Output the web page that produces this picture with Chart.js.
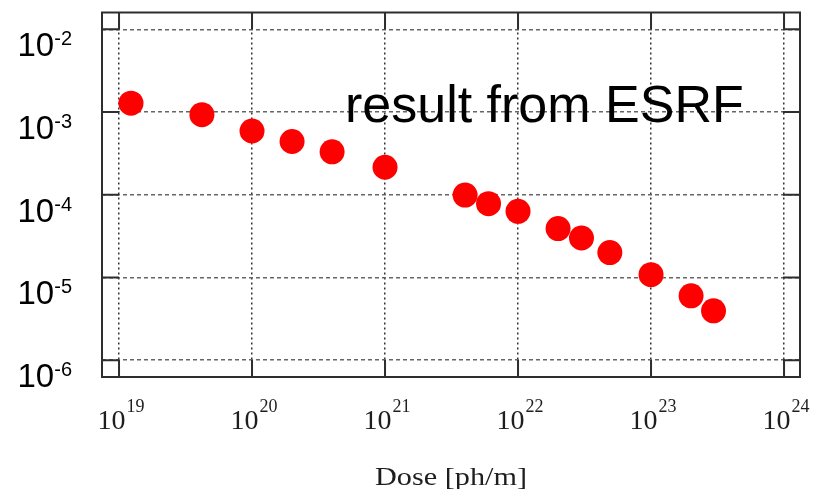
<!DOCTYPE html>
<html>
<head>
<meta charset="utf-8">
<script src="https://cdn.jsdelivr.net/npm/chart.js@4.4.1/dist/chart.umd.min.js"></script>
<style>
  html, body { margin: 0; padding: 0; background: #ffffff; }
  #wrap { width: 813px; height: 489px; position: relative; }
</style>
</head>
<body>
<div id="wrap"><canvas id="c" width="813" height="489"></canvas></div>
<script>
// ---- data ----
const doseValues  = [1.23e19, 4.2e19, 1.0e20, 2.0e20, 4.0e20, 1.0e21, 4.0e21, 6.0e21, 1.0e22, 2.0e22, 3.0e22, 4.9e22, 1.0e23, 2.0e23, 2.95e23];
const yieldValues = [1.28e-3, 9.3e-4, 5.9e-4, 4.4e-4, 3.3e-4, 2.15e-4, 9.9e-5, 7.8e-5, 6.3e-5, 3.9e-5, 3.0e-5, 2.0e-5, 1.08e-5, 6.0e-6, 3.95e-6];
const xTickExponents = [19, 20, 21, 22, 23, 24];
const yTickExponents = [-2, -3, -4, -5, -6];
const xAxisTitle = 'Dose [ph/m]';
const annotationText = 'result from ESRF';

const xMin = Math.pow(10, 18.872), xMax = Math.pow(10, 24.12);
const yMin = Math.pow(10, -6.203), yMax = Math.pow(10, -1.797);

const points = doseValues.map((d, i) => ({ x: d, y: yieldValues[i] }));

const decorPlugin = {
  id: 'decor',
  afterDraw(chart) {
    const ctx = chart.ctx;
    const a = chart.chartArea;
    const xs = chart.scales.x, ys = chart.scales.y;
    ctx.save();
    // inner tick marks (to first grid line)
    ctx.strokeStyle = '#2e2e2e';
    ctx.lineWidth = 2;
    const tickLen = 17;
    ctx.beginPath();
    xTickExponents.forEach(e => {
      const px = xs.getPixelForValue(Math.pow(10, e));
      ctx.moveTo(px, a.bottom); ctx.lineTo(px, a.bottom - tickLen);
      ctx.moveTo(px, a.top); ctx.lineTo(px, a.top + tickLen);
    });
    yTickExponents.forEach(e => {
      const py = ys.getPixelForValue(Math.pow(10, e));
      ctx.moveTo(a.left, py); ctx.lineTo(a.left + tickLen, py);
      ctx.moveTo(a.right, py); ctx.lineTo(a.right - tickLen, py);
    });
    ctx.stroke();
    // frame
    ctx.strokeRect(a.left, a.top, a.right - a.left, a.bottom - a.top);

    // y tick labels (Arial-like, superscript exponent)
    ctx.fillStyle = '#000000';
    ctx.textBaseline = 'alphabetic';
    ctx.textAlign = 'left';
    yTickExponents.forEach(e => {
      const py = ys.getPixelForValue(Math.pow(10, e));
      const base = py + 27;
      ctx.font = '20px "Liberation Sans", Arial, sans-serif';
      const sup = '-' + Math.abs(e);
      const supW = ctx.measureText(sup).width;
      ctx.font = '33px "Liberation Sans", Arial, sans-serif';
      const mainW = ctx.measureText('10').width;
      const right = 72;
      const mx = right - supW - mainW;
      ctx.fillText('10', mx, base);
      ctx.font = '20px "Liberation Sans", Arial, sans-serif';
      ctx.fillText(sup, mx + mainW, base - 11);
    });

    // x tick labels (Times-like, superscript exponent)
    ctx.fillStyle = '#1e1e1e';
    xTickExponents.forEach(e => {
      const px = xs.getPixelForValue(Math.pow(10, e));
      ctx.font = '28px "Liberation Serif", "Times New Roman", serif';
      const mainW = ctx.measureText('10').width;
      ctx.font = '18px "Liberation Serif", "Times New Roman", serif';
      const sup = String(e);
      const supW = ctx.measureText(sup).width;
      const total = mainW + 1 + supW;
      const sx = px + 2 - total / 2;
      ctx.font = '28px "Liberation Serif", "Times New Roman", serif';
      ctx.fillText('10', sx, 429);
      ctx.font = '18px "Liberation Serif", "Times New Roman", serif';
      ctx.fillText(sup, sx + mainW + 1, 412);
    });

    // x axis title
    ctx.font = '26px "Liberation Serif", "Times New Roman", serif';
    const tw = ctx.measureText(xAxisTitle).width;
    const targetW = 152;
    const scaleX = targetW / tw;
    const cx = (a.left + a.right) / 2;
    ctx.save();
    ctx.translate(cx - targetW / 2, 485);
    ctx.scale(scaleX, 1);
    ctx.fillText(xAxisTitle, 0, 0);
    ctx.restore();

    // annotation
    ctx.fillStyle = '#000000';
    ctx.font = '52px "Liberation Sans", Arial, sans-serif';
    ctx.fillText(annotationText, 345, 122);
    ctx.restore();
  }
};

const decadeTicks = (exps) => (scale) => {
  scale.ticks = exps.map(e => ({ value: Math.pow(10, e) }));
};

new Chart(document.getElementById('c'), {
  type: 'scatter',
  data: {
    datasets: [{
      data: points,
      backgroundColor: '#ff0000',
      borderColor: '#ff0000',
      borderWidth: 0,
      pointRadius: 12.5,
      pointHoverRadius: 12.5
    }]
  },
  options: {
    responsive: false,
    animation: false,
    devicePixelRatio: 1,
    layout: { padding: { left: 102, right: 13, top: 8, bottom: 112 } },
    plugins: { legend: { display: false }, tooltip: { enabled: false } },
    scales: {
      x: {
        type: 'logarithmic',
        min: xMin, max: xMax,
        afterBuildTicks: decadeTicks(xTickExponents),
        ticks: { display: false },
        grid: { display: true, drawTicks: false, color: '#333333', lineWidth: 1.5 },
        border: { display: false, dash: [2, 3] }
      },
      y: {
        type: 'logarithmic',
        min: yMin, max: yMax,
        afterBuildTicks: decadeTicks(yTickExponents),
        ticks: { display: false },
        grid: { display: true, drawTicks: false, color: '#666666', lineWidth: 1.5 },
        border: { display: false, dash: [4, 3] }
      }
    }
  },
  plugins: [decorPlugin]
});
</script>
</body>
</html>
